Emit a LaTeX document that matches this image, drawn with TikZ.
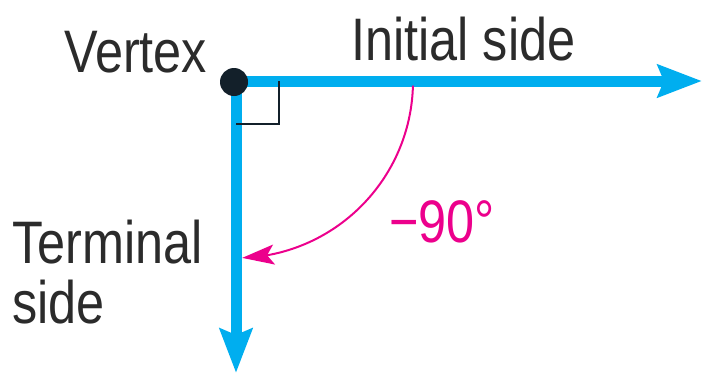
\documentclass[tikz,border=0pt]{standalone}
\usepackage{fontspec}
\setmainfont{Liberation Sans}[FakeStretch=0.84]
\usetikzlibrary{arrows.meta,bending,calc}
\definecolor{raycol}{HTML}{00AEEF}
\definecolor{anglecol}{HTML}{EC008C}
\definecolor{dotcol}{HTML}{13202A}
\definecolor{txtcol}{HTML}{2B2B2B}
\tikzset{
  ray/.style={draw=raycol, line width=11pt, -{Stealth[length=44pt,width=32pt,inset=6pt]}},
  anglearrow/.style={draw=anglecol, line width=2pt, -{Stealth[length=32pt,width=20pt,inset=7pt,flex]}},
  rightmark/.style={draw=dotcol, line width=2pt},
  lbl/.style={inner sep=0pt, anchor=base west, text=txtcol, font=\fontsize{60}{60}\selectfont},
  vertexdot/.style={circle, fill=dotcol, minimum size=28pt, inner sep=0pt}
}
\begin{document}
\begin{tikzpicture}[x=1pt,y=-1pt]
\useasboundingbox (0,0) rectangle (703,375);
\coordinate (O) at (236,81);
\coordinate (itip) at (702,81);
\coordinate (ttip) at (236,373);
\draw[ray] (O) -- (itip);
\draw[ray] (O) -- (ttip);
\coordinate (ra1) at (279,81);
\coordinate (ra2) at (279,124);
\coordinate (ra3) at (236,124);
\draw[rightmark] (ra1) -- (ra2) -- (ra3);
\node[vertexdot] (vertex) at (234,82) {};
\coordinate (arcstart) at ($(O)+(1.5:177)$);
\draw[anglearrow] (arcstart) arc[start angle=1.5, end angle=88, radius=177];
\node[lbl] (vlabel) at (64,72) {Vertex};
\node[lbl] (ilabel) at (351,60) {Initial side};
\node[lbl] (tlabel1) at (12,263) {Terminal};
\node[lbl] (tlabel2) at (12,323) {side};
\node[lbl, text=anglecol] (alabel) at (389,242) {−90°};
\end{tikzpicture}
\end{document}
